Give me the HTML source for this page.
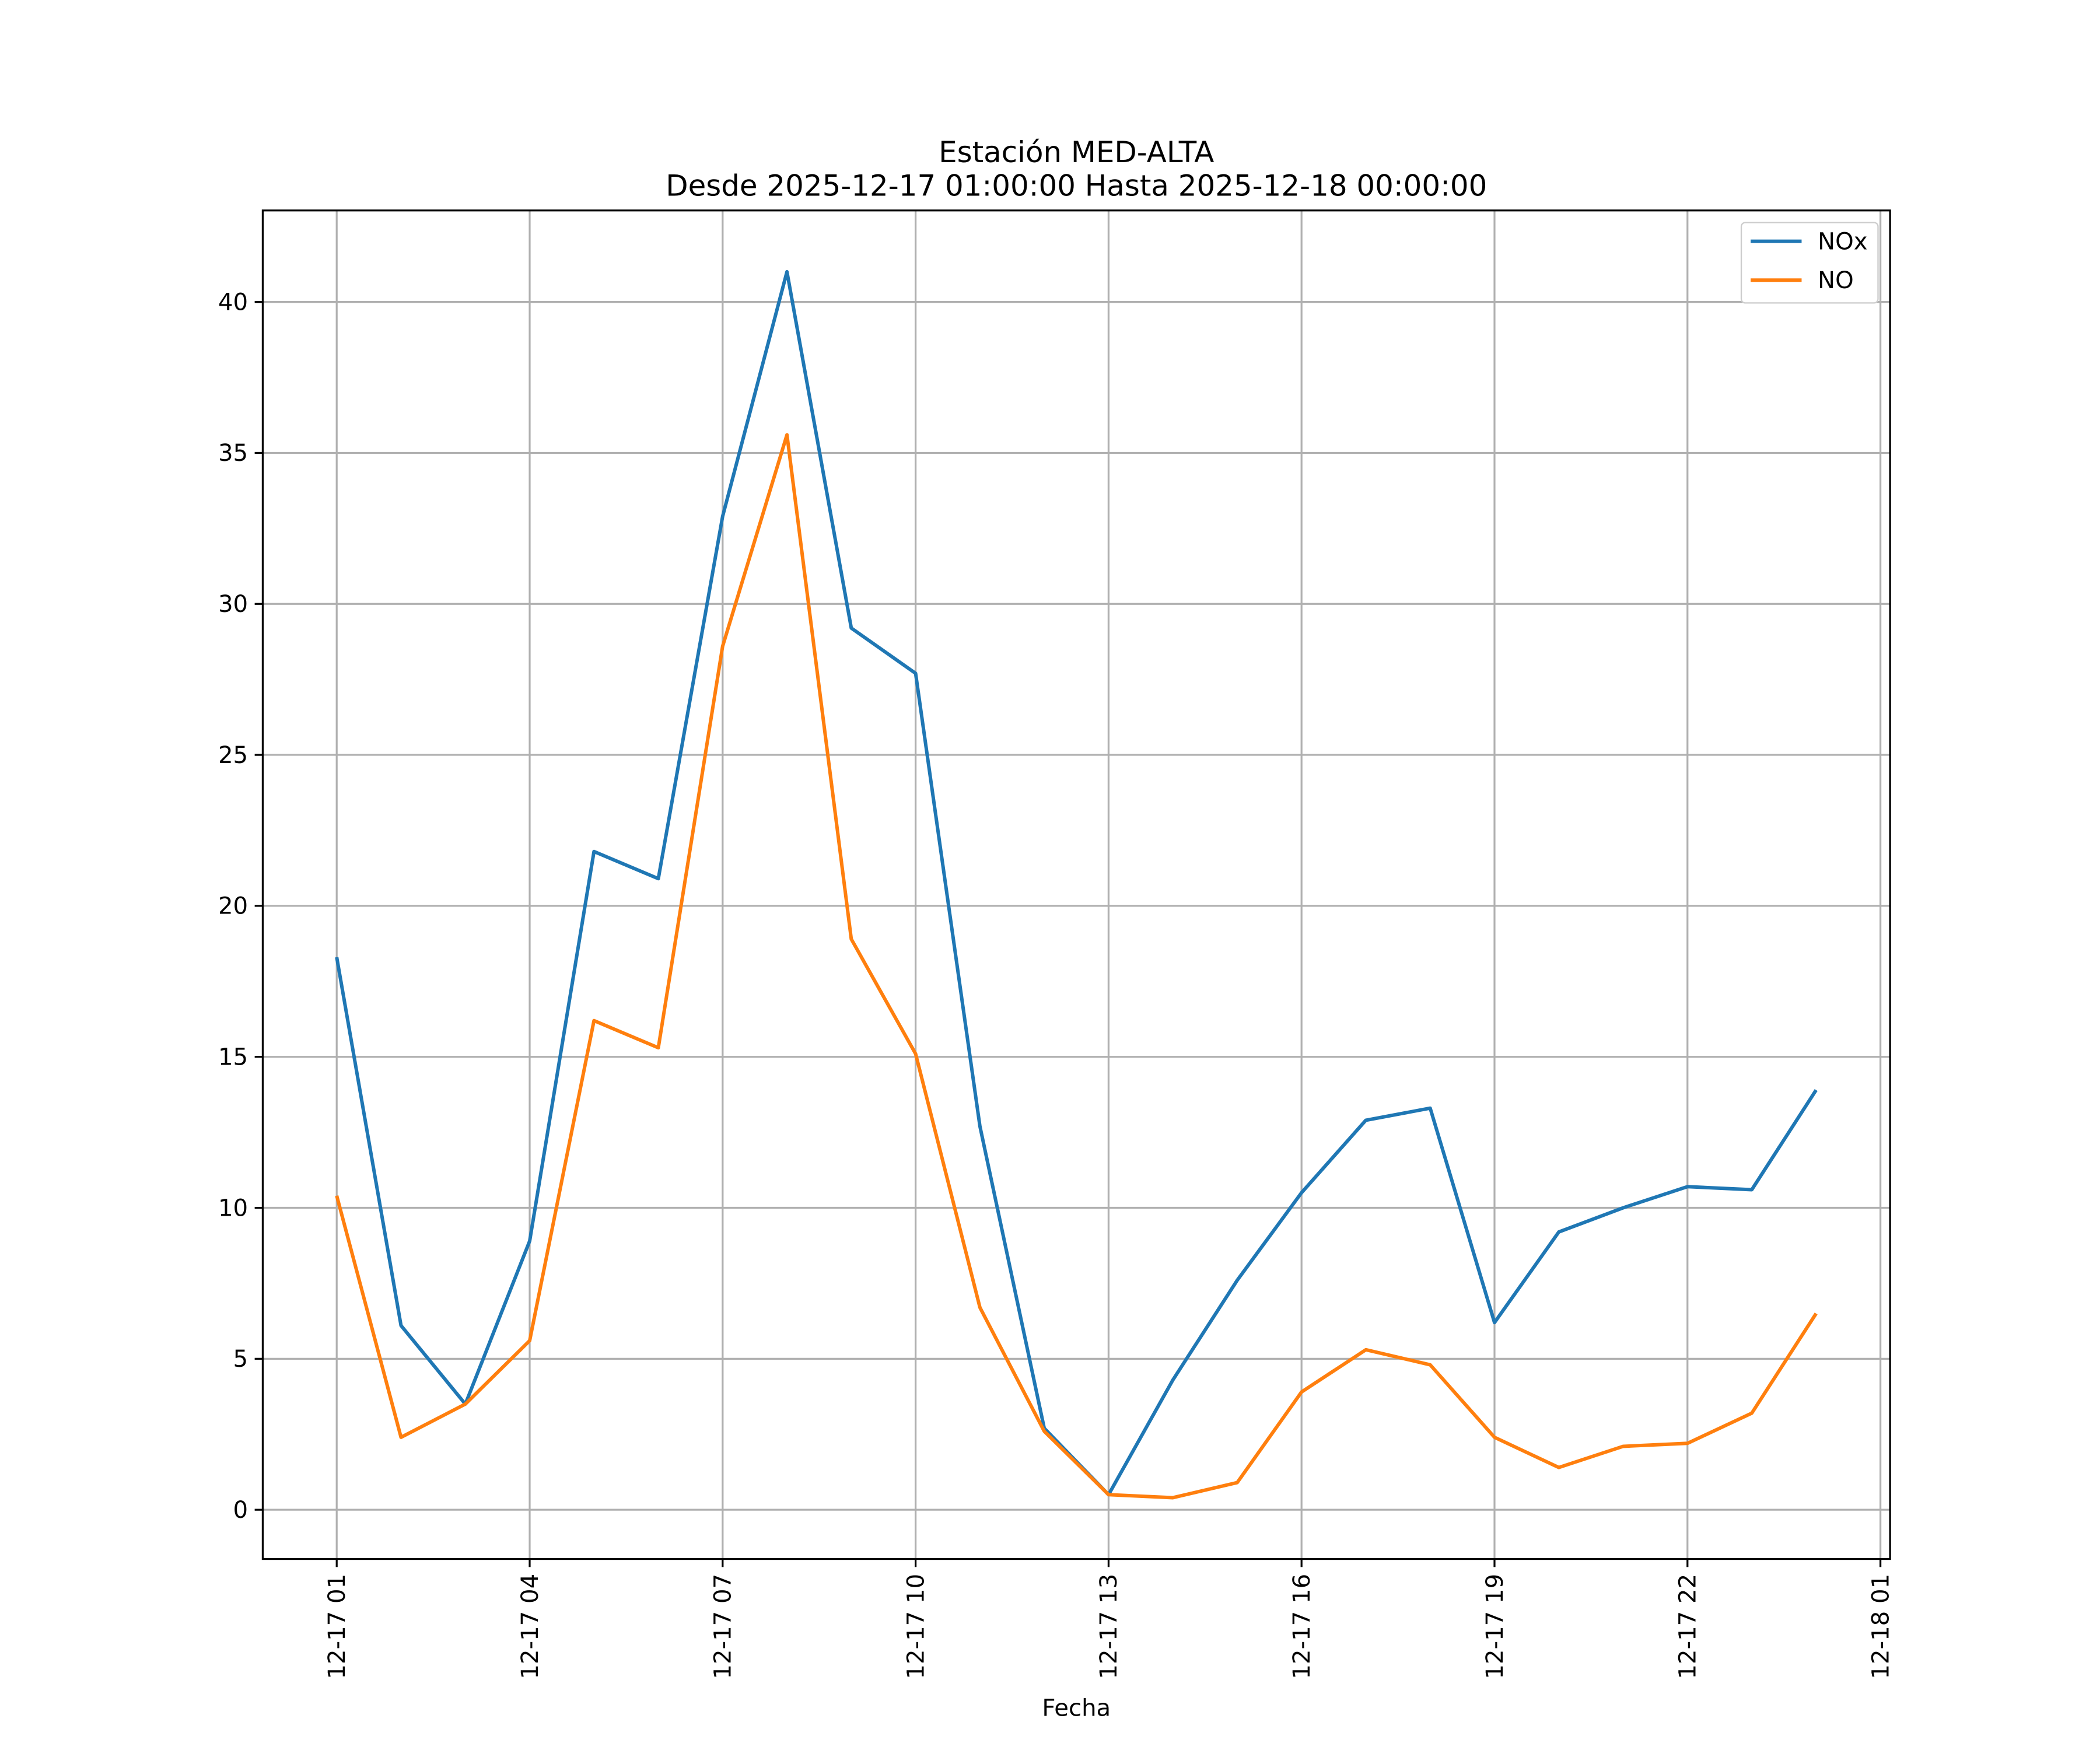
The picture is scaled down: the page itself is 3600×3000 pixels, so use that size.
<!DOCTYPE html>
<html><head><meta charset="utf-8"><style>
html,body{margin:0;padding:0;background:#fff;}
svg{display:block;font-family:"DejaVu Sans","Liberation Sans",sans-serif;}
</style></head><body>
<svg id="chart" width="3600" height="3000" viewBox="0 0 1566.6 1305.5" xmlns="http://www.w3.org/2000/svg">
<rect width="1600" height="1320" fill="#fff"/>
<text x="803" y="121" font-size="21.7" text-anchor="middle">Estación MED-ALTA</text>
<text x="803" y="146" font-size="21.7" text-anchor="middle">Desde 2025-12-17 01:00:00 Hasta 2025-12-18 00:00:00</text>
<g id="grid"></g>
<g id="series"></g>
<rect x="196" y="157" width="1214" height="1006" fill="none" stroke="#000" stroke-width="1.4"/>
<g id="axes"></g>
<text x="803" y="1280" font-size="17.5" text-anchor="middle">Fecha</text>
<g>
<rect x="1299" y="166" width="102" height="60" rx="3" fill="#fff" stroke="#ccc" stroke-width="1"/>
<g><line x1="1306" y1="180" x2="1344" y2="180" stroke="#1f77b4" stroke-width="2.6"/><text x="1356" y="186" font-size="17.5">NOx</text></g>
<g><line x1="1306" y1="209" x2="1344" y2="209" stroke="#ff7f0e" stroke-width="2.6"/><text x="1356" y="215" font-size="17.5">NO</text></g>
</g>
</svg>
<script>
const hours = [1,2,3,4,5,6,7,8,9,10,11,12,13,14,15,16,17,18,19,20,21,22,23,24];
const noxValues = [18.3,6.1,3.5,8.9,21.8,20.9,32.9,41.0,29.2,27.7,12.7,2.7,0.5,4.3,7.6,10.5,12.9,13.3,6.2,9.2,10.0,10.7,10.6,13.9];
const noValues = [10.4,2.4,3.5,5.6,16.2,15.3,28.6,35.6,18.9,15.1,6.7,2.6,0.5,0.4,0.9,3.9,5.3,4.8,2.4,1.4,2.1,2.2,3.2,6.5];
const yTicks = [0,5,10,15,20,25,30,35,40];
const xTickHours = [1,4,7,10,13,16,19,22,25];
const xTickLabels = ["12-17 01","12-17 04","12-17 07","12-17 10","12-17 13","12-17 16","12-17 19","12-17 22","12-18 01"];

const L=196,R=1410,T=157,B=1163;
const xMin=-0.15,xMax=25.15,yMin=-1.63,yMax=43.03;
const xs=h=>L+(h-xMin)/(xMax-xMin)*(R-L);
const ys=v=>B-(v-yMin)/(yMax-yMin)*(B-T);
const NS="http://www.w3.org/2000/svg";
function mk(tag,attrs,parent){const e=document.createElementNS(NS,tag);for(const k in attrs)e.setAttribute(k,attrs[k]);parent.appendChild(e);return e;}
const grid=document.getElementById('grid'),axes=document.getElementById('axes'),series=document.getElementById('series');
yTicks.forEach(v=>{
  const y=ys(v);
  const g=mk('line',{x1:L,x2:R,y1:y,y2:y,stroke:'#b0b0b0','stroke-width':1.4},grid);
  
  
  mk('line',{x1:L-6,x2:L,y1:y,y2:y,stroke:'#000','stroke-width':1.4},axes);
  const t=mk('text',{x:L-11,y:y+6,'font-size':17.5,'text-anchor':'end'},axes);
  
  
  t.textContent=v;
});
xTickHours.forEach((h,i)=>{
  const x=xs(h);
  const g=mk('line',{x1:x,x2:x,y1:T,y2:B,stroke:'#b0b0b0','stroke-width':1.4},grid);
  
  
  mk('line',{x1:x,x2:x,y1:B,y2:B+6,stroke:'#000','stroke-width':1.4},axes);
  const t=mk('text',{x:0,y:0,'font-size':17.5,'text-anchor':'end',transform:`translate(${x+6},${B+11}) rotate(-90)`},axes);
  
  
  t.textContent=xTickLabels[i];
});
function line(vals,color,name){
  const p=mk('polyline',{points:vals.map((v,i)=>xs(hours[i])+','+ys(v)).join(' '),fill:'none',stroke:color,'stroke-width':2.6,'stroke-linejoin':'round'},series);
  
  
}
line(noxValues,'#1f77b4','nox-line');
line(noValues,'#ff7f0e','no-line');
</script>
</body></html>
